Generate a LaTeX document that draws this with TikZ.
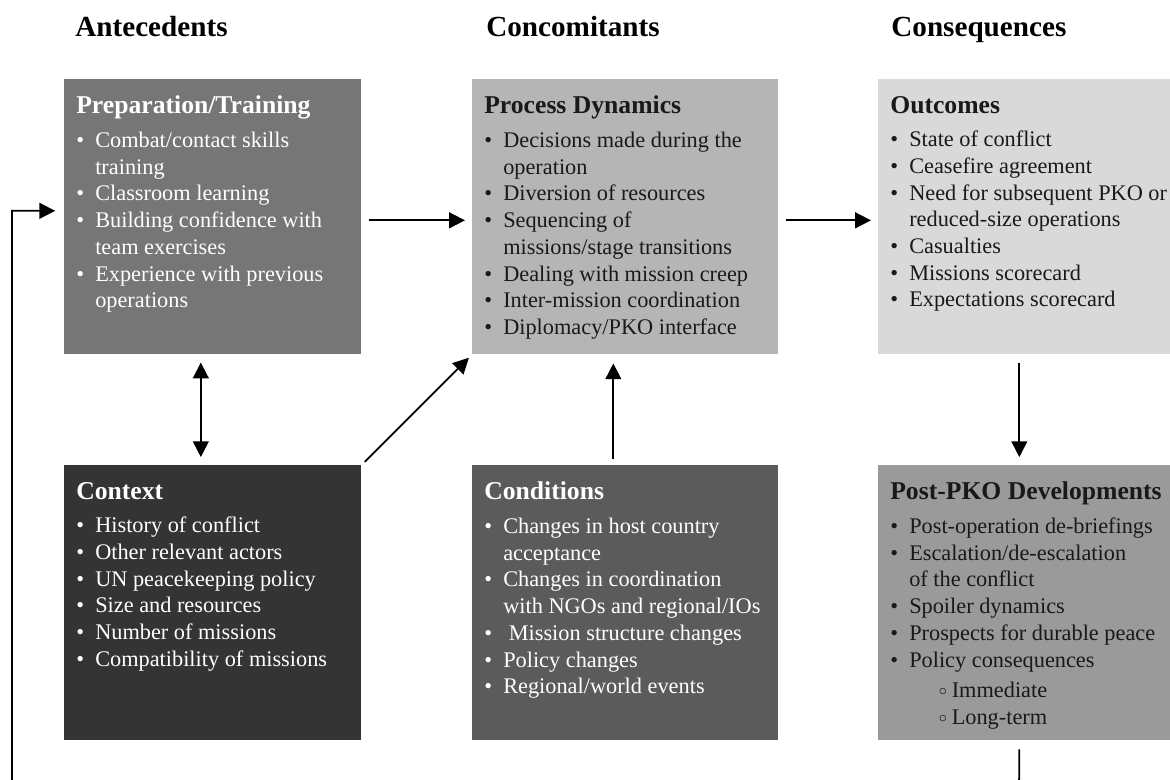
\documentclass[tikz,border=0pt]{standalone}
\usepackage{fontspec}
\setmainfont{Liberation Serif}
\usetikzlibrary{arrows.meta}

\definecolor{prepgray}{HTML}{767676}
\definecolor{procgray}{HTML}{B5B5B5}
\definecolor{outcgray}{HTML}{D9D9D9}
\definecolor{ctxgray}{HTML}{343434}
\definecolor{condgray}{HTML}{5B5B5B}
\definecolor{postgray}{HTML}{9A9A9A}

\def\boxh{5.5cm}
\newcommand{\headfont}{\fontsize{16.6}{19}\selectfont\bfseries}
\newcommand{\bodyfont}{\fontsize{12.7}{15.2}\selectfont}
\newcommand{\titlefont}{\fontsize{14.6}{17}\selectfont\bfseries}
\newcommand{\bul}[1]{\par\hangindent=10.8pt\hangafter=1\noindent\makebox[10.8pt][l]{\textbullet}#1}
\newcommand{\subbul}[1]{\par\noindent\hspace*{27.6pt}\makebox[7.4pt][l]{\raisebox{1.4pt}{$\scriptstyle\circ$}}#1}
\newcommand{\boxtext}[3]{\begin{minipage}[t][\boxh][t]{#1}\leftskip=6.8pt\vspace*{9.5pt}{\titlefont #2\par}\vspace{4pt}#3\end{minipage}}

\tikzstyle{header}=[anchor=base west,inner sep=0pt,font=\headfont]
\tikzstyle{pbox}=[anchor=north west,inner sep=0pt,font=\bodyfont]
\tikzstyle{conn}=[-{Triangle[length=9pt,width=9pt]},line width=1pt,shorten >=4pt,shorten <=4pt]
\tikzstyle{dconn}=[{Triangle[length=9pt,width=9pt]}-{Triangle[length=9pt,width=9pt]},line width=1pt,shorten >=4.5pt,shorten <=4.5pt]

\begin{document}
\begin{tikzpicture}[x=0.02cm,y=-0.02cm]
  \useasboundingbox (0,0) rectangle (1170,780);

  \foreach \x/\name/\txt in {75/ante/Antecedents, 486/conc/Concomitants, 891/cons/Consequences} {
      \node[header] (\name) at (\x,37) {\txt};
  }

  \node[pbox,fill=prepgray,text=white] (prep) at (64,79) {\boxtext{5.94cm}{Preparation/Training}{%
      \bul{Combat/contact skills\\training}
      \bul{Classroom learning}
      \bul{Building confidence with\\team exercises}
      \bul{Experience with previous\\operations}}};
  \node[pbox,fill=procgray,text=black!90] (proc) at (472,79) {\boxtext{6.12cm}{Process Dynamics}{%
      \bul{Decisions made during the\\operation}
      \bul{Diversion of resources}
      \bul{Sequencing of\\missions/stage transitions}
      \bul{Dealing with mission creep}
      \bul{Inter-mission coordination}
      \bul{Diplomacy/PKO interface}}};
  \node[pbox,fill=outcgray,text=black!90] (outc) at (878,79) {\boxtext{6.12cm}{Outcomes}{%
      \bul{State of conflict}
      \bul{Ceasefire agreement}
      \bul{Need for subsequent PKO or\\reduced-size operations}
      \bul{Casualties}
      \bul{Missions scorecard}
      \bul{Expectations scorecard}}};

  \node[pbox,fill=ctxgray,text=white] (ctx) at (64,465) {\boxtext{5.94cm}{Context}{%
      \bul{History of conflict}
      \bul{Other relevant actors}
      \bul{UN peacekeeping policy}
      \bul{Size and resources}
      \bul{Number of missions}
      \bul{Compatibility of missions}}};
  \node[pbox,fill=condgray,text=white] (cond) at (472,465) {\boxtext{6.12cm}{Conditions}{%
      \bul{Changes in host country\\acceptance}
      \bul{Changes in coordination\\with NGOs and regional/IOs}
      \bul{\ Mission structure changes}
      \bul{Policy changes}
      \bul{Regional/world events}}};
  \node[pbox,fill=postgray,text=black!90] (post) at (878,465) {\boxtext{6.12cm}{Post-PKO Developments}{%
      \bul{Post-operation de-briefings}
      \bul{Escalation/de-escalation\\of the conflict}
      \bul{Spoiler dynamics}
      \bul{Prospects for durable peace}
      \bul{Policy consequences}\par\vspace{2.3pt}
      \subbul{Immediate}
      \subbul{Long-term}}};

  \coordinate (fb-r) at (1019,800);
  \coordinate (fb-l) at (12,800);

  \draw[conn] ([yshift=-0.07cm]prep.east) -- ([yshift=-0.07cm]proc.west);
  \draw[conn] ([yshift=-0.07cm]proc.east) -- ([yshift=-0.07cm]outc.west);
  \draw[dconn] ([xshift=-0.24cm]prep.south) -- ([xshift=-0.24cm]ctx.north);
  \draw[conn,shorten <=2.5pt,shorten >=2.5pt] (ctx.north east) -- (proc.south west);
  \draw[conn,shorten <=3.5pt,shorten >=5pt] ([xshift=-0.24cm]cond.north) -- ([xshift=-0.24cm]proc.south);
  \draw[conn,shorten <=5pt,shorten >=4.5pt] ([xshift=-0.24cm]outc.south) -- ([xshift=-0.24cm]post.north);
  \draw[conn,shorten <=5pt,shorten >=5pt] ([xshift=-0.24cm]post.south) -- (fb-r) -- (fb-l) |- ([yshift=0.12cm]prep.west);
\end{tikzpicture}
\end{document}
